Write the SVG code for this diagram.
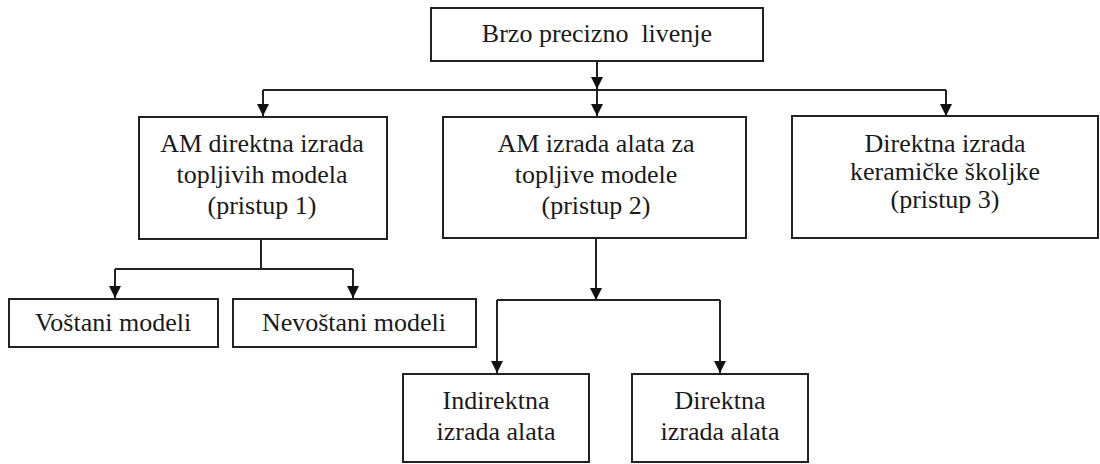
<svg xmlns="http://www.w3.org/2000/svg" width="1100" height="464" viewBox="0 0 1100 464">
  <defs>
    <marker id="arr" viewBox="0 0 12 12" refX="12" refY="6" markerWidth="13" markerHeight="12" markerUnits="userSpaceOnUse" orient="auto">
      <path d="M0,0 L12,6 L0,12 z" fill="#111"/>
    </marker>
    <style>
      .box { fill: #fff; stroke: #222; stroke-width: 2; }
      .ln { fill: none; stroke: #222; stroke-width: 2; }
      .ar { fill: none; stroke: #222; stroke-width: 2; marker-end: url(#arr); }
    </style>
  </defs>
  <rect width="1100" height="464" fill="#fff"/>

  <g id="connectors">
    <line class="ar" x1="597" y1="61" x2="597" y2="89"/>
    <line class="ln" x1="263" y1="90" x2="946" y2="90"/>
    <line class="ar" x1="263" y1="90" x2="263" y2="116"/>
    <line class="ar" x1="597" y1="90" x2="597" y2="116"/>
    <line class="ar" x1="946" y1="90" x2="946" y2="116"/>
    <line class="ln" x1="261" y1="239" x2="261" y2="269"/>
    <line class="ln" x1="115" y1="269" x2="353" y2="269"/>
    <line class="ar" x1="115" y1="269" x2="115" y2="298"/>
    <line class="ar" x1="353" y1="269" x2="353" y2="298"/>
    <line class="ar" x1="596" y1="238" x2="596" y2="300"/>
    <line class="ln" x1="497" y1="300" x2="720" y2="300"/>
    <line class="ar" x1="497" y1="300" x2="497" y2="373"/>
    <line class="ar" x1="720" y1="300" x2="720" y2="373"/>
  </g>

  <g font-family="Liberation Serif" font-size="26" text-anchor="middle" fill="#1a1a1a">
  <g id="root">
    <rect class="box" x="431" y="8" width="332" height="53"/>
    <text x="597" y="42" xml:space="preserve">Brzo precizno  livenje</text>
  </g>

  <g id="pristup1">
    <rect class="box" x="139" y="117" width="248" height="122"/>
    <text x="262" y="152">AM direktna izrada</text>
    <text x="262" y="183">topljivih modela</text>
    <text x="262" y="214">(pristup 1)</text>
  </g>

  <g id="pristup2">
    <rect class="box" x="443" y="117" width="303" height="121"/>
    <text x="596" y="152">AM izrada alata za</text>
    <text x="596" y="183">topljive modele</text>
    <text x="596" y="214">(pristup 2)</text>
  </g>

  <g id="pristup3">
    <rect class="box" x="792" y="116" width="306" height="122"/>
    <text x="945" y="152">Direktna izrada</text>
    <text x="945" y="180">keramičke školjke</text>
    <text x="945" y="208">(pristup 3)</text>
  </g>

  <g id="vostani">
    <rect class="box" x="9" y="299" width="209" height="48"/>
    <text x="113" y="331">Voštani modeli</text>
  </g>

  <g id="nevostani">
    <rect class="box" x="233" y="299" width="243" height="48"/>
    <text x="354" y="331">Nevoštani modeli</text>
  </g>

  <g id="indirektna">
    <rect class="box" x="403" y="374" width="186" height="88"/>
    <text x="496" y="409">Indirektna</text>
    <text x="496" y="440">izrada alata</text>
  </g>

  <g id="direktna">
    <rect class="box" x="632" y="374" width="176" height="88"/>
    <text x="720" y="409">Direktna</text>
    <text x="720" y="440">izrada alata</text>
  </g>
  </g>
</svg>
